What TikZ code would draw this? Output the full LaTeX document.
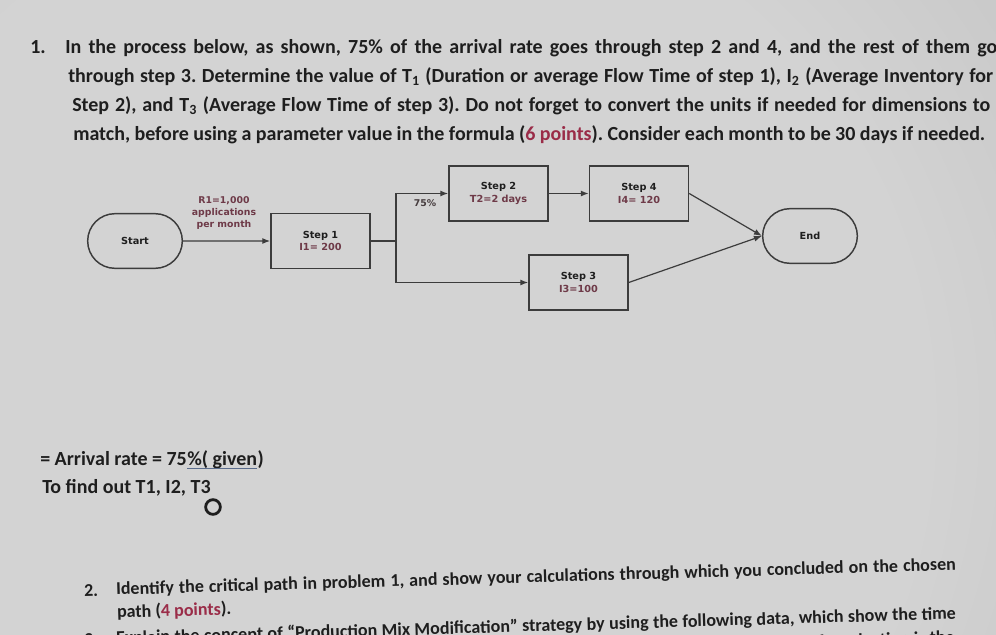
\documentclass[tikz,border=0pt]{standalone}
\usepackage{fontspec}
\setmainfont{Carlito}
\newfontfamily\diagfont{DejaVu Sans}
\usetikzlibrary{arrows.meta,shapes.misc}
\definecolor{bgin}{HTML}{D3D3D3}
\definecolor{bgmid}{HTML}{BEBEBE}
\definecolor{bgout}{HTML}{A2A2A2}
\definecolor{bgfar}{HTML}{969696}
\definecolor{ink}{HTML}{1E1E1E}
\definecolor{pts}{HTML}{9A2C48}
\definecolor{val}{HTML}{6E3A48}
\definecolor{edgec}{HTML}{3C3C3C}
\definecolor{ulinec}{HTML}{5A6C8C}
\pgfdeclareradialshading{bgshade}{\pgfpoint{0bp}{0bp}}{color(0bp)=(bgin); color(22bp)=(bgin); color(40bp)=(bgmid); color(55bp)=(bgout); color(80bp)=(bgfar)}
\frenchspacing
\tikzset{
  body/.style={font=\fontsize{15}{18}\selectfont\bfseries, text=ink, inner sep=0pt, anchor=base west},
  note/.style={font=\fontsize{15}{18}\selectfont\bfseries, text=ink, inner sep=0pt, anchor=base west},
  bodyb/.style={font=\fontsize{13.5}{16}\selectfont\bfseries, text=ink, inner sep=0pt, rotate=1.7},
  stepbox/.style={draw=edgec, line width=1.1pt, minimum width=74.25pt, minimum height=41.25pt, inner sep=1pt, align=center,
    font=\diagfont\fontsize{7.3}{9.5}\selectfont\bfseries, text=ink},
  termbox/.style={rounded rectangle, draw=edgec, line width=1.1pt, minimum width=73pt, minimum height=41pt, inner sep=1pt,
    font=\diagfont\fontsize{7.3}{9.5}\selectfont\bfseries, text=ink},
  flow/.style={draw=edgec, line width=0.9pt, -{Latex[length=6pt,width=4.5pt]}},
  plainline/.style={draw=edgec, line width=0.9pt},
  lbl/.style={font=\diagfont\fontsize{7}{9}\selectfont\bfseries, text=val, align=center, inner sep=0pt},
}
\begin{document}
\begin{tikzpicture}[x=0.75pt,y=-0.75pt]
\useasboundingbox (0,0) rectangle (996,635);
\clip (0,0) rectangle (996,635);
\shade[shading=bgshade] (-240,-200) rectangle (1000,1040);

% problem 1 text
\node[body] (n1) at (30,54) {1.};
\node[body] (l1) at (65,54) {\hbox to 699pt{In the process below, as shown, 75\% of the arrival rate goes through step 2 and 4, and the rest of them go}};
\node[body] (l2) at (68,83) {\hbox to 693.75pt{through step 3. Determine the value of T\textsubscript{1} (Duration or average Flow Time of step 1), I\textsubscript{2} (Average Inventory for}};
\node[body] (l3) at (72,112) {\hbox to 688.5pt{Step 2), and T\textsubscript{3} (Average Flow Time of step 3). Do not forget to convert the units if needed for dimensions to}};
\node[body] (l4) at (73,140) {\hbox to 684pt{match, before using a parameter value in the formula (\textcolor{pts}{6 points}). Consider each month to be 30 days if needed.}};

% diagram
\node[termbox] (start) at (135,241) {Start};
\node[stepbox] (step1) at (320.5,241) {Step 1\\\textcolor{val}{I1= 200}};
\node[stepbox] (step2) at (498.5,193.5) {Step 2\\\textcolor{val}{T2=2 days}};
\node[stepbox] (step4) at (639,193.5) {Step 4\\\textcolor{val}{I4= 120}};
\node[stepbox] (step3) at (578.5,282.5) {Step 3\\\textcolor{val}{I3=100}};
\node[termbox] (end) at (810,236) {End};
\coordinate (split) at (396,241);

\draw[flow] (start) -- (step1);
\node[lbl] (r1) at (224,213) {R1=1,000\\applications\\per month};
\draw[plainline] (step1.east) -- (split);
\draw[flow] (split) |- (step2.west);
\draw[flow] (split) |- (step3.west);
\node[lbl, text=edgec!80!val] (pct) at (425,203) {75\%};
\draw[flow] (step2) -- (step4);
\draw[flow] (step4.east) -- (end.west);
\draw[flow] (step3.east) -- (end.west);

% notes
\node[note] (ar1) at (40,465) {= Arrival rate = 75};
\node[note] (ar2) at (ar1.base east) {\%( given};
\node[note] (ar3) at (ar2.base east) {)};
\draw[ulinec, line width=1pt] ([yshift=-2.6pt]ar2.base west) -- ([yshift=-2.6pt]ar2.base east);
\node[note] (tf) at (42,493) {To find out T1, I2, T3};
\node[circle, draw=ink, line width=2.1pt, minimum size=11pt, inner sep=0pt] (ring) at (213,507) {};

% problem 2
\node[bodyb, anchor=base west] (n2) at (84,597) {2.};
\node[bodyb, anchor=base west] (q2a) at (116,595) {\hbox to 630pt{Identify the critical path in problem 1, and show your calculations through which you concluded on the chosen}};
\node[bodyb, anchor=base west] (q2b) at (117,618) {path (\textcolor{pts}{4 points}).};
\node[bodyb, anchor=base west] (n3) at (84,646) {3.};
\node[bodyb, anchor=base west] (q3a) at (116,644) {\hbox to 630pt{Explain the concept of “Production Mix Modification” strategy by using the following data, which show the time}};
\node[bodyb, anchor=base east] (q3b) at (955,643) {of production is the};
\end{tikzpicture}
\end{document}
